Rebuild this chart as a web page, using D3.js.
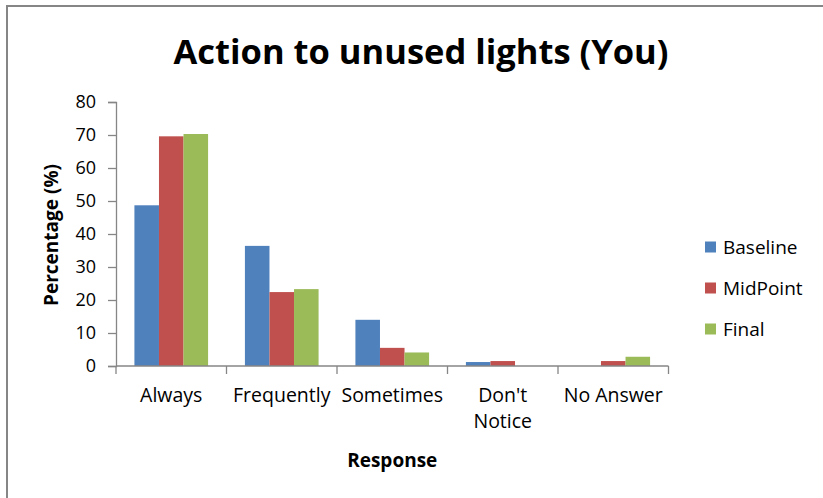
<!DOCTYPE html>
<html>
<head>
<meta charset="utf-8">
<script src="https://cdn.jsdelivr.net/npm/d3@7"></script>
<style>
  html, body { margin: 0; padding: 0; background: #fff; }
  svg { display: block; }
  text { font-family: "Open Sans", "Noto Sans", sans-serif; fill: #000; }
</style>
</head>
<body>
<script>
// Survey responses: what people do about lights left on in unused rooms
const categories = ["Always", "Frequently", "Sometimes", "Don't\nNotice", "No Answer"];
const seriesNames = ["Baseline", "MidPoint", "Final"];
const baseline = [48.7, 36.4, 14.0, 1.2, 0];
const midPoint = [69.6, 22.4, 5.5, 1.5, 1.5];
const final = [70.3, 23.3, 4.1, 0, 2.8];
const yTicks = [0, 10, 20, 30, 40, 50, 60, 70, 80];
const colors = ["#4F81BD", "#C0504D", "#9BBB59"];

const values = [baseline, midPoint, final];
const W = 823, H = 498;
const plot = { left: 116, right: 668.5, top: 102, bottom: 366 };

const svg = d3.select("body").append("svg").attr("width", W).attr("height", H);

// chart area frame (runs past the right and bottom edges)
svg.append("rect")
  .attr("x", 7).attr("y", 6).attr("width", W + 20).attr("height", H + 20)
  .attr("fill", "#fff").attr("stroke", "#868686").attr("stroke-width", 2);

const x0 = d3.scaleBand().domain(categories).range([plot.left, plot.right]).padding(0);
const x1 = d3.scaleBand().domain(seriesNames).range([0, x0.bandwidth()])
  .paddingInner(0).paddingOuter(0.75);
const y = d3.scaleLinear().domain([0, 80]).range([plot.bottom, plot.top]);

// bars
const groups = svg.append("g").selectAll("g")
  .data(categories).join("g")
  .attr("transform", d => `translate(${x0(d)},0)`);
groups.selectAll("rect")
  .data((c, i) => seriesNames.map((s, k) => ({ s, k, v: values[k][i] })))
  .join("rect")
  .attr("x", d => x1(d.s))
  .attr("width", x1.bandwidth())
  .attr("y", d => y(d.v))
  .attr("height", d => y(0) - y(d.v))
  .attr("fill", d => colors[d.k]);

// y axis
const yAxis = svg.append("g").attr("transform", `translate(${plot.left},0)`)
  .call(d3.axisLeft(y).tickValues(yTicks).tickSize(8).tickPadding(12));
yAxis.select(".domain").attr("stroke", "#868686").attr("stroke-width", 1.3);
yAxis.selectAll(".tick line").attr("stroke", "#868686").attr("stroke-width", 1.3);
yAxis.selectAll(".tick text").attr("font-size", 18).attr("font-family", "Open Sans").attr("fill", "#000");

// x axis: boundary ticks between categories
const boundaries = d3.range(categories.length + 1).map(i => plot.left + i * x0.step());
const xAxis = svg.append("g");
xAxis.append("line")
  .attr("x1", plot.left).attr("x2", plot.right)
  .attr("y1", plot.bottom).attr("y2", plot.bottom)
  .attr("stroke", "#868686").attr("stroke-width", 1.3);
xAxis.selectAll("line.tick").data(boundaries).join("line")
  .attr("class", "tick")
  .attr("x1", d => d).attr("x2", d => d)
  .attr("y1", plot.bottom).attr("y2", plot.bottom + 8)
  .attr("stroke", "#868686").attr("stroke-width", 1.3);
const catLabels = xAxis.selectAll("text").data(categories).join("text")
  .attr("x", d => x0(d) + x0.bandwidth() / 2)
  .attr("y", 402)
  .attr("text-anchor", "middle")
  .attr("font-size", 19.5);
catLabels.selectAll("tspan").data(d => d.split("\n")).join("tspan")
  .attr("x", function () { return this.parentNode.getAttribute("x"); })
  .attr("dy", (d, i) => i === 0 ? 0 : 26)
  .text(d => d);

// titles
svg.append("text")
  .attr("x", 421).attr("y", 64)
  .attr("text-anchor", "middle")
  .attr("font-size", 34.5).attr("font-weight", "bold")
  .text("Action to unused lights (You)");

svg.append("text")
  .attr("x", (plot.left + plot.right) / 2).attr("y", 467)
  .attr("text-anchor", "middle")
  .attr("font-size", 19).attr("font-weight", "bold")
  .text("Response");

svg.append("text")
  .attr("transform", `translate(58,${(plot.top + plot.bottom) / 2 + 1}) rotate(-90)`)
  .attr("text-anchor", "middle")
  .attr("font-size", 19).attr("font-weight", "bold")
  .text("Percentage (%)");

// legend
const legend = svg.append("g").selectAll("g")
  .data(seriesNames).join("g")
  .attr("transform", (d, i) => `translate(705,${247 + i * 41})`);
legend.append("rect")
  .attr("x", 0).attr("y", -5.5).attr("width", 11).attr("height", 11)
  .attr("fill", (d, i) => colors[i]);
legend.append("text")
  .attr("x", 18).attr("y", 0).attr("dy", "0.35em")
  .attr("font-size", 19)
  .text(d => d);
</script>
</body>
</html>
